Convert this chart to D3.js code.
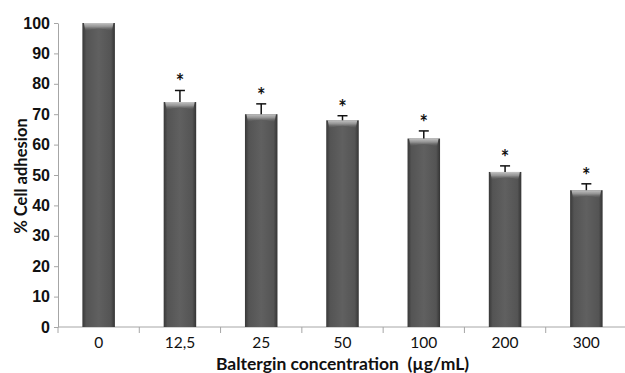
<!DOCTYPE html>
<html>
<head>
<meta charset="utf-8">
<script src="https://cdn.jsdelivr.net/npm/d3@7"></script>
<style>
  body { margin: 0; background: #fff; }
  svg { display: block; font-family: Lato, "Open Sans", sans-serif; }
</style>
</head>
<body>
<svg id="chart" width="625" height="373"></svg>
<script>
// data
const concentrations = ["0", "12,5", "25", "50", "100", "200", "300"];
const adhesion = [100, 74, 70, 68, 62, 51, 45];
const errorUp = [0, 3.8, 3.4, 1.5, 2.5, 2, 2.1];
const significant = [false, true, true, true, true, true, true];
const yTicks = [0, 10, 20, 30, 40, 50, 60, 70, 80, 90, 100];

const svg = d3.select("#chart");
const plotLeft = 58, plotRight = 627, plotTop = 23, plotBottom = 327;

const x = d3.scaleBand().domain(concentrations).range([plotLeft, plotRight])
    .paddingInner(0.6).paddingOuter(0.3);
const y = d3.scaleLinear().domain([0, 100]).range([plotBottom, plotTop]);

const defs = svg.append("defs");
const hg = defs.append("linearGradient").attr("id", "barH")
    .attr("x1", 0).attr("x2", 1).attr("y1", 0).attr("y2", 0);
hg.append("stop").attr("offset", "0%").attr("stop-color", "#383838");
hg.append("stop").attr("offset", "12%").attr("stop-color", "#545454");
hg.append("stop").attr("offset", "50%").attr("stop-color", "#606060");
hg.append("stop").attr("offset", "88%").attr("stop-color", "#545454");
hg.append("stop").attr("offset", "100%").attr("stop-color", "#343434");

const vg = defs.append("linearGradient").attr("id", "barTop")
    .attr("x1", 0).attr("x2", 0).attr("y1", 0).attr("y2", 1);
vg.append("stop").attr("offset", "0%").attr("stop-color", "#c4c4c4").attr("stop-opacity", 1);
vg.append("stop").attr("offset", "45%").attr("stop-color", "#9a9a9a").attr("stop-opacity", 0.9);
vg.append("stop").attr("offset", "100%").attr("stop-color", "#606060").attr("stop-opacity", 0);

// axes
const yAxis = svg.append("g")
    .attr("transform", `translate(${plotLeft},0)`)
    .call(d3.axisLeft(y).tickValues(yTicks).tickSize(4).tickPadding(4).tickSizeOuter(0));
yAxis.select(".domain").attr("stroke", "#a6a6a6");
yAxis.selectAll(".tick line").attr("stroke", "#a6a6a6");
yAxis.selectAll(".tick text").attr("fill", "#111").style("font-size", "16px").style("font-weight", "bold");

const bounds = concentrations.map(c => x(c) - x.step() * x.paddingInner() / 2);
bounds.push(plotRight);
const xAxis = svg.append("g").attr("transform", `translate(0,${plotBottom})`);
xAxis.append("line").attr("x1", plotLeft).attr("x2", plotRight).attr("stroke", "#a6a6a6");
xAxis.selectAll(".xt").data(bounds).enter().append("line")
    .attr("x1", d => d).attr("x2", d => d).attr("y1", 0).attr("y2", 6)
    .attr("stroke", "#a6a6a6");
xAxis.selectAll(".xl").data(concentrations).enter().append("text")
    .attr("x", d => x(d) + x.bandwidth() / 2).attr("y", 21)
    .attr("text-anchor", "middle").attr("fill", "#111")
    .style("font-size", "15.5px").text(d => d);

// bars
const bars = svg.append("g");
const w = x.bandwidth();
concentrations.forEach((c, i) => {
    const bx = x(c), by = y(adhesion[i]);
    bars.append("rect").attr("x", bx).attr("y", by).attr("width", w)
        .attr("height", plotBottom - by).attr("fill", "url(#barH)");
    bars.append("path")
        .attr("d", `M${bx + 1.5},${by} L${bx + w - 1.5},${by} L${bx + w - 3},${by + 8} Q${bx + w / 2},${by + 3} ${bx + 3},${by + 8} Z`)
        .attr("fill", "url(#barTop)");
    // upper error bar
    if (errorUp[i] > 0) {
        const cx = bx + w / 2, ey = y(adhesion[i] + errorUp[i]);
        bars.append("line").attr("x1", cx).attr("x2", cx).attr("y1", by).attr("y2", ey)
            .attr("stroke", "#111").attr("stroke-width", 1.5);
        bars.append("line").attr("x1", cx - 5).attr("x2", cx + 5).attr("y1", ey).attr("y2", ey)
            .attr("stroke", "#111").attr("stroke-width", 1.5);
    }
    if (significant[i]) {
        bars.append("text").attr("x", bx + w / 2).attr("y", y(adhesion[i] + errorUp[i]) - 1)
            .attr("text-anchor", "middle").style("font-size", "20px").style("font-weight", "bold")
            .attr("fill", "#111").text("*");
    }
});

// titles
svg.append("text").attr("x", (plotLeft + plotRight) / 2).attr("y", 370)
    .attr("text-anchor", "middle").style("font-size", "17.5px").style("font-weight", "bold")
    .style("white-space", "pre")
    .attr("fill", "#111").text("Baltergin concentration  (\u00b5g/mL)");
svg.append("text").attr("transform", "translate(27,176) rotate(-90)")
    .attr("text-anchor", "middle").style("font-size", "16.5px").style("font-weight", "bold")
    .attr("fill", "#111").text("% Cell adhesion");
</script>
</body>
</html>
